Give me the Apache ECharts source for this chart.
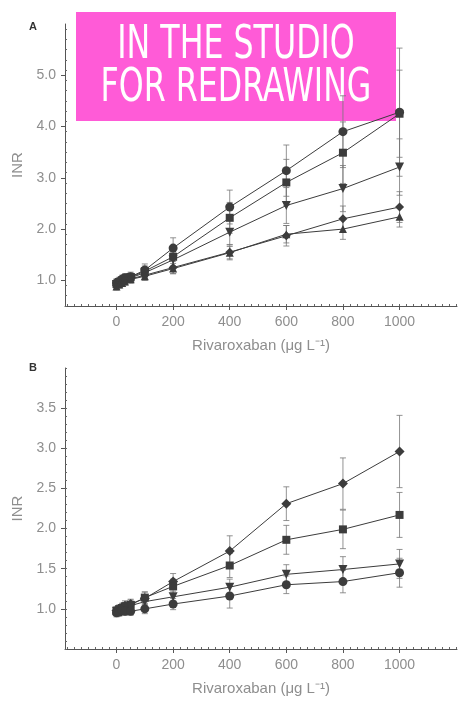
<!DOCTYPE html>
<html>
<head>
<meta charset="utf-8">
<script src="https://cdn.jsdelivr.net/npm/echarts@6/dist/echarts.min.js"></script>
<style>
  html, body { margin: 0; padding: 0; background: #fff; }
  #chart { width: 474px; height: 718px; }
</style>
</head>
<body>
<div id="chart"></div>
<script>
// doses (µg/L) shared by both panels
const doses = [0, 10, 20, 30, 50, 100, 200, 400, 600, 800, 1000];
const xTicks = [0, 200, 400, 600, 800, 1000];
const yTicksA = [1.0, 2.0, 3.0, 4.0, 5.0];
const yTicksB = [1.0, 1.5, 2.0, 2.5, 3.0, 3.5];

// panel A: mean INR and SD
const aCircle = [0.95, 0.98, 1.02, 1.05, 1.07, 1.20, 1.63, 2.43, 3.14, 3.90, 4.28];
const aCircleSd = [0.08, 0.08, 0.08, 0.08, 0.09, 0.12, 0.20, 0.33, 0.50, 0.70, 1.25];
const aSquare = [0.93, 0.97, 1.00, 1.03, 1.06, 1.18, 1.46, 2.22, 2.91, 3.49, 4.25];
const aSquareSd = [0.07, 0.07, 0.08, 0.08, 0.08, 0.10, 0.18, 0.30, 0.45, 0.60, 0.85];
const aTriDown = [0.92, 0.96, 0.99, 1.02, 1.05, 1.15, 1.40, 1.94, 2.46, 2.79, 3.21];
const aTriDownSd = [0.07, 0.07, 0.07, 0.08, 0.08, 0.10, 0.15, 0.25, 0.35, 0.45, 0.55];
const aDiamond = [0.90, 0.93, 0.97, 1.00, 1.03, 1.10, 1.25, 1.55, 1.87, 2.20, 2.43];
const aDiamondSd = [0.07, 0.07, 0.07, 0.07, 0.08, 0.09, 0.12, 0.15, 0.20, 0.25, 0.30];
const aTriUp = [0.88, 0.92, 0.95, 0.98, 1.02, 1.08, 1.23, 1.54, 1.90, 2.00, 2.24];
const aTriUpSd = [0.07, 0.07, 0.07, 0.07, 0.07, 0.08, 0.10, 0.12, 0.17, 0.20, 0.20];

// panel B
const bDiamond = [0.98, 1.00, 1.02, 1.04, 1.06, 1.13, 1.34, 1.72, 2.31, 2.56, 2.96];
const bDiamondSd = [0.05, 0.05, 0.05, 0.06, 0.06, 0.08, 0.10, 0.19, 0.21, 0.32, 0.45];
const bSquare = [0.97, 0.99, 1.01, 1.03, 1.05, 1.14, 1.28, 1.54, 1.86, 1.99, 2.17];
const bSquareSd = [0.05, 0.05, 0.05, 0.05, 0.06, 0.07, 0.09, 0.15, 0.18, 0.24, 0.28];
const bTriDown = [0.97, 0.99, 1.00, 1.02, 1.04, 1.09, 1.15, 1.27, 1.43, 1.49, 1.56];
const bTriDownSd = [0.05, 0.05, 0.05, 0.05, 0.05, 0.06, 0.07, 0.10, 0.12, 0.16, 0.18];
const bCircle = [0.95, 0.96, 0.98, 0.97, 0.97, 1.00, 1.06, 1.16, 1.30, 1.34, 1.45];
const bCircleSd = [0.05, 0.05, 0.05, 0.05, 0.05, 0.06, 0.07, 0.15, 0.11, 0.14, 0.18];

const ink = "#3c3c3c";
const grey = "#8e8e8e";
const font = "'Liberation Sans', Arial, Helvetica, sans-serif";

const chart = echarts.init(document.getElementById("chart"), null, { renderer: "canvas" });

function steps(from, to, step) {
  const out = [];
  for (let v = from; v <= to + 1e-9; v += step) out.push(Math.round(v * 1000) / 1000);
  return out;
}

const xMinor = steps(-175, 1200, 25);

function xAxes(grid) {
  return [
    {
      gridIndex: grid, type: "value", min: -182, max: 1203,
      name: "Rivaroxaban (μg L\u207B\u00B9)", nameLocation: "middle", nameGap: 32,
      nameTextStyle: { color: grey, fontSize: 15, fontFamily: font },
      axisLine: { onZero: false, lineStyle: { color: "#555", width: 1 } },
      axisTick: { customValues: xTicks, length: 4, lineStyle: { color: "#555" } },
      axisLabel: { customValues: xTicks, color: grey, fontSize: 14, fontFamily: font, margin: 9,
        formatter: v => String(v) },
      splitLine: { show: false }
    },
    {
      gridIndex: grid, type: "value", min: -182, max: 1203, position: "bottom",
      axisLine: { show: false, onZero: false },
      axisTick: { customValues: xMinor, inside: true, length: 2, lineStyle: { color: "#666" } },
      axisLabel: { show: false },
      splitLine: { show: false }
    }
  ];
}

function yAxes(grid, min, max, ticks, minorStep) {
  return [
    {
      gridIndex: grid, type: "value", min: min, max: max,
      name: "INR", nameLocation: "middle", nameGap: 38,
      nameTextStyle: { color: grey, fontSize: 15, fontFamily: font },
      axisLine: { show: true, onZero: false, lineStyle: { color: "#555", width: 1 } },
      axisTick: { show: true, customValues: ticks, length: 4, lineStyle: { color: "#555" } },
      axisLabel: { customValues: ticks, color: grey, fontSize: 14, fontFamily: font, margin: 9,
        formatter: v => v.toFixed(1) },
      splitLine: { show: false }
    },
    {
      gridIndex: grid, type: "value", min: min, max: max, position: "left",
      axisLine: { show: false, onZero: false },
      axisTick: { show: true, customValues: steps(min, max, minorStep), inside: true, length: 2,
        lineStyle: { color: "#666" } },
      axisLabel: { show: false },
      splitLine: { show: false }
    }
  ];
}

function errorSeries(grid, means, sds) {
  return {
    type: "custom",
    xAxisIndex: grid * 2, yAxisIndex: grid * 2,
    data: doses.map((d, i) => [d, means[i], sds[i]]),
    clip: true,
    z: 1,
    renderItem: function (params, api) {
      const x = api.value(0), m = api.value(1), s = api.value(2);
      const hi = api.coord([x, m + s]);
      const lo = api.coord([x, m - s]);
      const w = 3;
      const style = { stroke: "#777", lineWidth: 0.8 };
      return {
        type: "group",
        children: [
          { type: "line", shape: { x1: hi[0], y1: hi[1], x2: lo[0], y2: lo[1] }, style: style },
          { type: "line", shape: { x1: hi[0] - w, y1: hi[1], x2: hi[0] + w, y2: hi[1] }, style: style },
          { type: "line", shape: { x1: lo[0] - w, y1: lo[1], x2: lo[0] + w, y2: lo[1] }, style: style }
        ]
      };
    }
  };
}

function lineSeries(grid, means, symbol, size) {
  return {
    type: "line",
    xAxisIndex: grid * 2, yAxisIndex: grid * 2,
    data: doses.map((d, i) => [d, means[i]]),
    symbol: symbol,
    symbolSize: size,
    showAllSymbol: true,
    lineStyle: { color: ink, width: 1 },
    itemStyle: { color: ink, borderWidth: 0 },
    z: 3
  };
}

const triDown = "path://M0,0 L10,0 L5,9 Z";

const option = {
  backgroundColor: "#fff",
  animation: false,
  grid: [
    { left: 65, top: 24, width: 392, height: 282 },
    { left: 65, top: 368, width: 392, height: 281 }
  ],
  xAxis: [...xAxes(0), ...xAxes(1)],
  yAxis: [...yAxes(0, 0.5, 6.0, yTicksA, 0.2), ...yAxes(1, 0.5, 4.0, yTicksB, 0.1)],
  series: [
    errorSeries(0, aCircle, aCircleSd),
    errorSeries(0, aSquare, aSquareSd),
    errorSeries(0, aTriDown, aTriDownSd),
    errorSeries(0, aDiamond, aDiamondSd),
    errorSeries(0, aTriUp, aTriUpSd),
    lineSeries(0, aCircle, "circle", 9),
    lineSeries(0, aSquare, "rect", 8),
    lineSeries(0, aTriDown, triDown, 9),
    lineSeries(0, aDiamond, "diamond", 9),
    lineSeries(0, aTriUp, "triangle", 8),
    errorSeries(1, bDiamond, bDiamondSd),
    errorSeries(1, bSquare, bSquareSd),
    errorSeries(1, bTriDown, bTriDownSd),
    errorSeries(1, bCircle, bCircleSd),
    lineSeries(1, bDiamond, "diamond", 10),
    lineSeries(1, bSquare, "rect", 8),
    lineSeries(1, bTriDown, triDown, 9),
    lineSeries(1, bCircle, "circle", 9)
  ],
  graphic: [
    { type: "text", left: 29, top: 21, style: { text: "A", fill: "#333", font: "bold 11px " + font } },
    { type: "text", left: 29, top: 362, style: { text: "B", fill: "#333", font: "bold 11px " + font } },
    {
      type: "group", left: 76, top: 12, z: 100,
      children: [
        { type: "rect", shape: { x: 0, y: 0, width: 320, height: 109 }, style: { fill: "#ff5bd7" } },
        { type: "text", x: 160, y: 34, scaleX: 0.8, scaleY: 1.05,
          style: { text: "IN THE STUDIO", fill: "#fff", font: "44px 'DejaVu Sans Condensed', 'Liberation Sans Narrow', sans-serif",
            align: "center", verticalAlign: "middle" } },
        { type: "text", x: 160, y: 77, scaleX: 0.8, scaleY: 1.05,
          style: { text: "FOR REDRAWING", fill: "#fff", font: "44px 'DejaVu Sans Condensed', 'Liberation Sans Narrow', sans-serif",
            align: "center", verticalAlign: "middle" } }
      ]
    }
  ]
};

chart.setOption(option);
</script>
</body>
</html>
